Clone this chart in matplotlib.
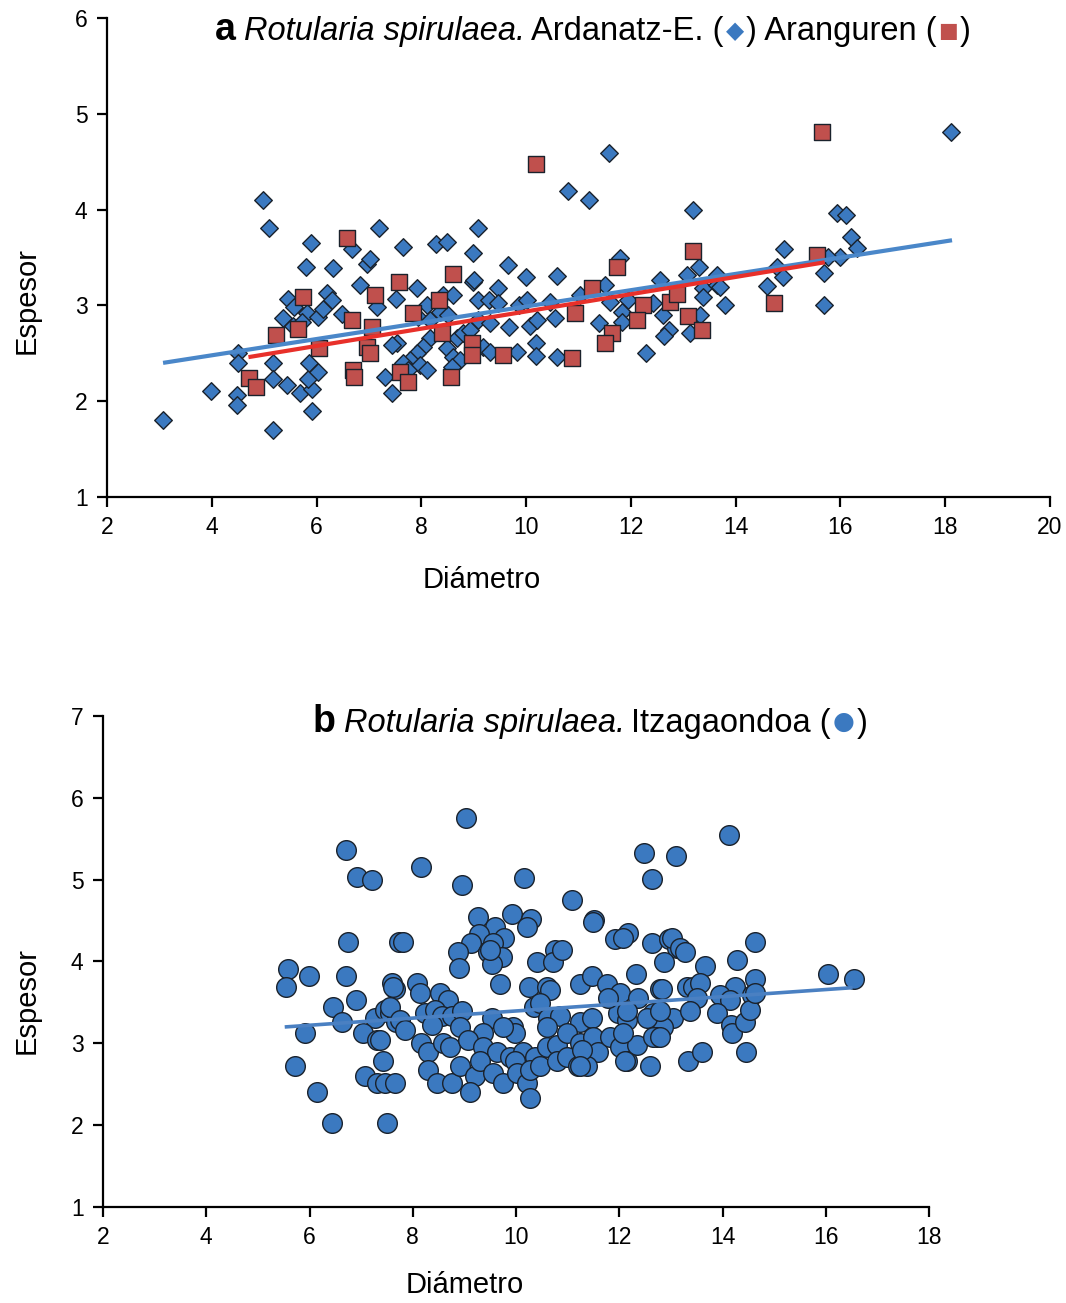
import numpy as np
import matplotlib
matplotlib.use("Agg")
from matplotlib import pyplot as plt

# ---- Panel a: Ardanatz-E. (diamonds) ----
ardanatz_diam = [
    3.07, 3.99, 4.48, 4.48, 4.50, 4.50, 4.98, 5.09, 5.17, 5.17, 5.17, 5.44, 5.68, 5.91, 5.84,
    5.91, 5.86, 6.03, 5.36, 5.55, 5.45, 5.57, 5.82, 5.72, 6.03, 6.12, 6.20, 6.29, 6.49, 5.80,
    5.89, 6.31, 6.68, 6.96, 7.02, 7.19, 6.83, 7.65, 8.28, 8.49, 8.99, 9.08, 7.92, 7.52, 8.11,
    8.41, 8.60, 8.99, 7.15, 7.94, 8.17, 8.36, 8.51, 8.68, 8.80, 8.93, 9.08, 8.17, 8.03, 7.92,
    7.78, 7.65, 7.54, 7.44, 7.97, 7.75, 8.11, 8.49, 8.60, 8.74, 8.59, 7.31, 7.44, 9.01, 9.65,
    10.00, 10.59, 11.79, 12.56, 13.07, 13.30, 13.64, 9.46, 9.08, 9.29, 9.46, 9.86, 10.02, 10.46,
    11.03, 11.51, 11.60, 11.94, 11.83, 12.42, 12.61, 13.38, 13.38, 13.64, 13.32, 9.31, 9.67,
    10.07, 10.21, 10.55, 11.39, 11.83, 12.73, 12.63, 13.13, 9.18, 9.31, 9.83, 10.19, 10.19,
    10.59, 12.29, 11.58, 10.80, 11.20, 13.19, 18.11, 15.93, 16.11, 16.20, 16.32, 14.92, 15.99,
    15.76, 15.69, 14.79, 14.90, 14.60, 15.69, 13.80, 13.70,
]
ardanatz_esp = [
    1.80, 2.11, 2.06, 1.96, 2.50, 2.40, 4.10, 3.81, 1.70, 2.40, 2.23, 2.17, 2.09, 2.13, 2.23,
    1.90, 2.40, 2.30, 2.87, 2.78, 3.07, 2.98, 2.92, 2.83, 2.88, 2.96, 3.13, 3.06, 2.91, 3.40,
    3.65, 3.39, 3.59, 3.43, 3.48, 3.81, 3.21, 3.61, 3.64, 3.66, 3.55, 3.81, 3.18, 3.07, 3.00,
    3.11, 3.11, 3.24, 2.98, 2.88, 2.85, 2.93, 2.90, 2.66, 2.71, 2.74, 2.85, 2.66, 2.57, 2.50,
    2.43, 2.40, 2.61, 2.59, 2.38, 2.33, 2.33, 2.56, 2.46, 2.43, 2.36, 2.25, 2.09, 3.27, 3.42,
    3.30, 3.31, 3.49, 3.27, 3.32, 3.40, 3.32, 3.18, 3.06, 3.06, 3.03, 3.00, 3.06, 3.04,
    3.11, 3.21, 3.04, 3.06, 2.93, 3.03, 2.90, 3.18, 3.09, 3.21, 2.90, 2.82, 2.77,
    2.78, 2.85, 2.87, 2.82, 2.83, 2.74, 2.68, 2.71, 2.57, 2.51, 2.51, 2.61, 2.47,
    2.46, 2.50, 4.59, 4.19, 4.10, 4.00, 4.81, 3.96, 3.94, 3.71, 3.60, 3.59, 3.51,
    3.51, 3.34, 3.40, 3.30, 3.20, 3.00, 3.00, 3.19,
]

# ---- Panel a: Aranguren (squares) ----
aranguren_diam = [
    6.58, 5.74, 7.12, 7.57, 7.84, 6.68, 5.65, 5.23, 6.05, 7.06, 6.96, 7.02, 6.70, 6.71, 4.71,
    4.84, 7.59, 7.75, 8.60, 8.34, 8.39, 8.97, 8.97, 9.56, 8.57, 10.19, 10.88, 10.93, 11.26,
    11.73, 11.64, 11.51, 12.23, 12.12, 12.75, 12.88, 13.09, 13.36, 13.19, 14.73, 15.55, 15.65,
]
aranguren_esp = [
    3.70, 3.09, 3.11, 3.24, 2.92, 2.85, 2.75, 2.69, 2.56, 2.77, 2.57, 2.50, 2.33, 2.25, 2.24,
    2.15, 2.30, 2.20, 3.33, 3.06, 2.71, 2.61, 2.48, 2.48, 2.25, 4.48, 2.45, 2.92, 3.18,
    3.40, 2.71, 2.61, 3.00, 2.85, 3.04, 3.12, 2.89, 2.74, 3.57, 3.03, 3.53, 4.81,
]

# trend lines (end points)
ardanatz_fit_x = [3.07, 18.13]
ardanatz_fit_y = [2.40, 3.68]
aranguren_fit_x = [4.70, 15.70]
aranguren_fit_y = [2.46, 3.45]

# ---- Panel b: Itzagaondoa (circles) ----
itza_diam = [
    9.03, 8.16, 8.95, 10.16, 11.08, 12.48, 13.10, 12.63, 14.12, 6.71, 6.92, 7.21,
    6.75, 7.73, 5.58, 5.99, 6.71, 5.54, 7.60, 7.66, 6.45, 6.90, 7.27, 7.46, 7.56, 7.68, 6.63,
    5.91, 7.04, 7.31, 7.42, 5.72, 7.07, 7.31, 7.46, 7.66, 6.14, 6.44, 7.50,
    7.81, 9.26, 9.92, 10.29, 10.21, 9.59, 9.77, 9.28, 9.13, 8.88, 8.90, 9.55, 9.46, 9.73, 9.53,
    9.69, 10.41, 10.75, 10.72, 11.51, 11.92, 12.17, 12.07, 12.63, 12.96, 13.12, 12.87, 12.32,
    12.79, 10.25, 10.60, 10.66, 11.24, 11.47, 11.76, 11.92, 12.01, 12.36, 7.62, 8.08, 8.14,
    8.53, 8.68, 10.35, 10.46, 7.56, 7.75, 7.85, 8.24, 8.43, 8.57, 8.76, 8.95, 8.91, 8.37,
    9.53, 9.94, 9.98, 9.36, 9.75, 10.62, 10.85, 10.60, 11.24, 11.47, 11.97, 12.15, 12.65,
    13.04, 12.85, 7.37, 8.16, 8.30, 8.59, 8.72, 9.07, 9.36, 9.63, 9.88, 10.14, 10.37, 10.60,
    10.79, 10.99, 11.24, 11.49, 11.59, 11.82, 12.01, 12.15, 12.34, 12.73, 12.59, 8.30, 8.47,
    8.76, 8.91, 9.21, 9.11, 9.30, 9.55, 9.75, 9.98, 10.02, 10.21, 10.27, 10.27, 10.46, 10.79,
    10.99, 11.20, 11.37, 10.89, 11.49, 13.66, 14.28, 14.63, 14.63, 14.24, 11.78, 13.31, 13.43,
    13.56, 13.95, 14.14, 14.57, 13.51, 13.37, 13.89, 14.16, 14.18, 14.43, 14.53, 12.54, 12.65,
    12.15, 12.07, 11.28, 12.11, 11.24, 13.33, 13.60, 14.45, 9.50, 13.02, 13.18, 13.27, 16.04,
    16.55, 12.83, 14.63, 12.79, 12.79,
]
itza_esp = [
    5.75, 5.15, 4.93, 5.02, 4.75, 5.33, 5.29, 5.01, 5.55, 5.36, 5.03, 5.00,
    4.24, 4.24, 3.91, 3.82, 3.82, 3.69, 3.74, 3.67, 3.44, 3.53, 3.31, 3.41, 3.37, 3.26, 3.26,
    3.13, 3.13, 3.04, 2.78, 2.72, 2.60, 2.52, 2.52, 2.52, 2.41, 2.03, 2.03,
    4.24, 4.54, 4.58, 4.52, 4.42, 4.42, 4.29, 4.34, 4.22, 4.11, 3.92, 4.22, 4.11, 4.05, 3.97,
    3.72, 3.99, 4.14, 3.99, 4.51, 4.27, 4.35, 4.29, 4.22, 4.27, 4.16, 3.99, 3.85,
    3.67, 3.69, 3.69, 3.65, 3.72, 3.82, 3.72, 3.53, 3.62, 3.56, 3.69, 3.74, 3.62,
    3.62, 3.53, 3.44, 3.49, 3.44, 3.29, 3.16, 3.37, 3.41, 3.34, 3.34, 3.39, 3.20, 3.23,
    3.31, 3.20, 3.13, 3.13, 3.20, 3.31, 3.34, 3.20, 3.26, 3.31, 3.37, 3.29, 3.37,
    3.31, 3.20, 3.04, 3.00, 2.89, 3.00, 2.96, 3.04, 2.96, 2.89, 2.83, 2.89, 2.83, 2.96,
    2.98, 3.13, 3.00, 3.08, 2.89, 3.08, 2.96, 2.78, 2.98, 3.08, 2.72, 2.67, 2.52,
    2.52, 2.72, 2.60, 2.41, 2.78, 2.64, 2.52, 2.78, 2.64, 2.52, 2.67, 2.33, 2.72, 2.78,
    2.83, 2.72, 2.72, 4.14, 4.48, 3.94, 4.02, 4.24, 3.79, 3.69, 3.56, 3.69, 3.69,
    3.74, 3.59, 3.53, 3.59, 3.56, 3.39, 3.37, 3.23, 3.13, 3.26, 3.41, 3.31, 3.08,
    3.39, 3.13, 2.92, 2.78, 2.72, 2.78, 2.89, 2.89, 4.14, 4.29, 4.16, 4.11, 3.85,
    3.79, 3.67, 3.62, 3.39, 3.08,
]
itza_fit_x = [5.52, 16.52]
itza_fit_y = [3.20, 3.68]

W, H = 1066, 1303
BLUE = "#3b79c0"
RED = "#c0504d"
EDGE = "#1a222c"
SANS = ["Liberation Sans", "DejaVu Sans"]
SYM = ["DejaVu Sans"]

fig = plt.figure(figsize=(W / 100, H / 100), dpi=100)
fig.patch.set_facecolor("white")


def px_axes(left, top, right, bottom):
    return fig.add_axes([left / W, 1 - bottom / H, (right - left) / W, (bottom - top) / H])


def style_axes(ax, xlim, ylim, xlab_pos, ylab_pos):
    ax.set_xlim(*xlim)
    ax.set_ylim(*ylim)
    ax.set_xticks(np.arange(xlim[0], xlim[1] + 1, 2))
    ax.set_yticks(np.arange(ylim[0], ylim[1] + 1, 1))
    for side in ("top", "right"):
        ax.spines[side].set_visible(False)
    for side in ("left", "bottom"):
        ax.spines[side].set_linewidth(1.6)
    ax.tick_params(direction="out", length=7, width=1.6, labelsize=16.5, pad=7)
    for lab in ax.get_xticklabels() + ax.get_yticklabels():
        lab.set_family(SANS)
    ax.set_xlabel("Diámetro", fontsize=21, family=SANS)
    ax.set_ylabel("Espesor", fontsize=21, family=SANS)
    ax.xaxis.set_label_coords(*xlab_pos)
    ax.yaxis.set_label_coords(*ylab_pos)


def draw_title(x_px, y_px, pieces):
    # pieces: (text, gap after in px, raise in px, text kwargs)
    renderer = fig.canvas.get_renderer()
    x = x_px
    for s, gap, rise, kw in pieces:
        t = fig.text(x / W, 1 - (y_px - rise) / H, s, ha="left", va="baseline", **kw)
        x += t.get_window_extent(renderer=renderer).width + gap


# ---- panel a ----
ax_a = px_axes(107, 18, 1050, 497)
ax_a.scatter(ardanatz_diam, ardanatz_esp, marker="D", s=80, c=BLUE,
             edgecolors=EDGE, linewidths=1.0, zorder=2)
ax_a.scatter(aranguren_diam, aranguren_esp, marker="s", s=140, c=RED,
             edgecolors=EDGE, linewidths=1.0, zorder=3)
ax_a.plot(ardanatz_fit_x, ardanatz_fit_y, color="#4a87c9", lw=3.0,
          solid_capstyle="butt", zorder=4)
ax_a.plot(aranguren_fit_x, aranguren_fit_y, color="#e8302a", lw=3.0,
          solid_capstyle="butt", zorder=5)
style_axes(ax_a, (2, 20), (1, 6), (0.397, -0.145), (-0.07, 0.41))

txt = dict(fontsize=23.5, family=SANS)
draw_title(215, 40, [
    ("a", 8, 0, dict(fontsize=27, family=SANS, fontweight="bold")),
    ("Rotularia spirulaea.", 6, 0, dict(txt, style="italic")),
    ("Ardanatz-E. (", 2, 0, txt),
    ("◆", 2, 2, dict(fontsize=17, family=SYM, color=BLUE)),
    (") Aranguren (", 2, 0, txt),
    ("■", 2, 3, dict(fontsize=15, family=SYM, color=RED)),
    (")", 0, 0, txt),
])

# ---- panel b ----
ax_b = px_axes(103, 716, 929, 1207)
ax_b.scatter(itza_diam, itza_esp, marker="o", s=200, c=BLUE,
             edgecolors=EDGE, linewidths=1.0, zorder=2)
ax_b.plot(itza_fit_x, itza_fit_y, color="#4a80c2", lw=2.6,
          solid_capstyle="butt", zorder=4)
style_axes(ax_b, (2, 18), (1, 7), (0.438, -0.13), (-0.075, 0.42))

draw_title(313, 732, [
    ("b", 8, 0, dict(fontsize=27, family=SANS, fontweight="bold")),
    ("Rotularia spirulaea.", 6, 0, dict(txt, style="italic")),
    ("Itzagaondoa (", 2, 0, txt),
    ("●", 2, 3, dict(fontsize=18, family=SYM, color=BLUE)),
    (")", 0, 0, txt),
])

fig.savefig("out.png", dpi=100)
